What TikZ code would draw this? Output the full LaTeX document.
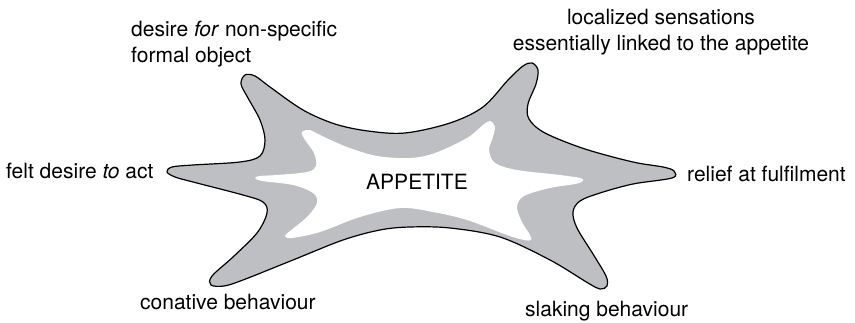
\documentclass[tikz,border=0pt]{standalone}
\usepackage{fontspec}
\setmainfont{TeX Gyre Heros}
\definecolor{blobgrey}{RGB}{190,191,195}
\begin{document}
\begin{tikzpicture}[
        x=1pt, y=-1pt,
        font=\fontsize{21}{26}\selectfont,
        textlabel/.style={inner sep=0pt, align=left},
        outerblob/.style={draw=black, line width=1.2pt, fill=blobgrey, tension=0.55},
        innerblob/.style={fill=white, tension=0.55}
    ]
        \useasboundingbox (0,0) rectangle (855,323);

        \draw[outerblob] plot[smooth cycle] coordinates {
            (241,84) (245,75) (255,76) (270,87) (303,110) (335,124)
            (368,131) (405,133) (450,123) (483,107) (508,80) (523,66)
            (532,63) (538,70) (536,84) (528,104) (529,119) (545,133)
            (585,149) (633,162) (663,167) (674,171) (672,178) (633,184)
            (600,193) (580,201) (573,212) (577,228) (593,254) (606,276)
            (607,286) (600,289) (588,283) (550,260) (500,237) (450,228)
            (410,227) (380,230) (343,240) (293,260) (243,280) (224,286)
            (211,285) (212,276) (233,257) (257,233) (267,213) (263,202)
            (243,195) (193,182) (175,177) (167,172) (172,167) (193,165)
            (240,162) (260,156) (265,140) (260,120) (248,98)};

        \fill[innerblob] plot[smooth cycle] coordinates {
            (303,131) (310,130) (320,135) (347,147) (377,156) (410,158)
            (435,153) (467,138) (483,125) (490,121) (495,127) (492,140)
            (489,150) (495,163) (517,170) (560,175) (580,178) (583,181)
            (575,184) (550,188) (524,196) (517,207) (522,222) (530,235)
            (531,240) (524,240) (507,235) (467,220) (433,212) (400,208)
            (360,217) (320,232) (292,238) (285,236) (290,231) (307,217)
            (317,203) (313,193) (293,185) (262,181) (255,178) (260,176)
            (277,175) (307,172) (316,166) (314,153) (305,140) (302,134)};

        \node[textlabel, anchor=base] (appetite) at (417,190) {APPETITE};

        \node[textlabel, anchor=base west] (formalObject) at (131,63)
            {desire \textit{for} non-specific\\formal object};
        \node[textlabel, align=center, anchor=base] (sensations) at (661,51)
            {localized sensations\\essentially linked to the appetite};
        \node[textlabel, anchor=base west] (feltDesire) at (6,179)
            {felt desire \textit{to} act};
        \node[textlabel, anchor=base west] (relief) at (687,182)
            {relief at fulfilment};
        \node[textlabel, anchor=base west] (conative) at (140,310)
            {conative behaviour};
        \node[textlabel, anchor=base west] (slaking) at (525,317)
            {slaking behaviour};
    \end{tikzpicture}
\end{document}
